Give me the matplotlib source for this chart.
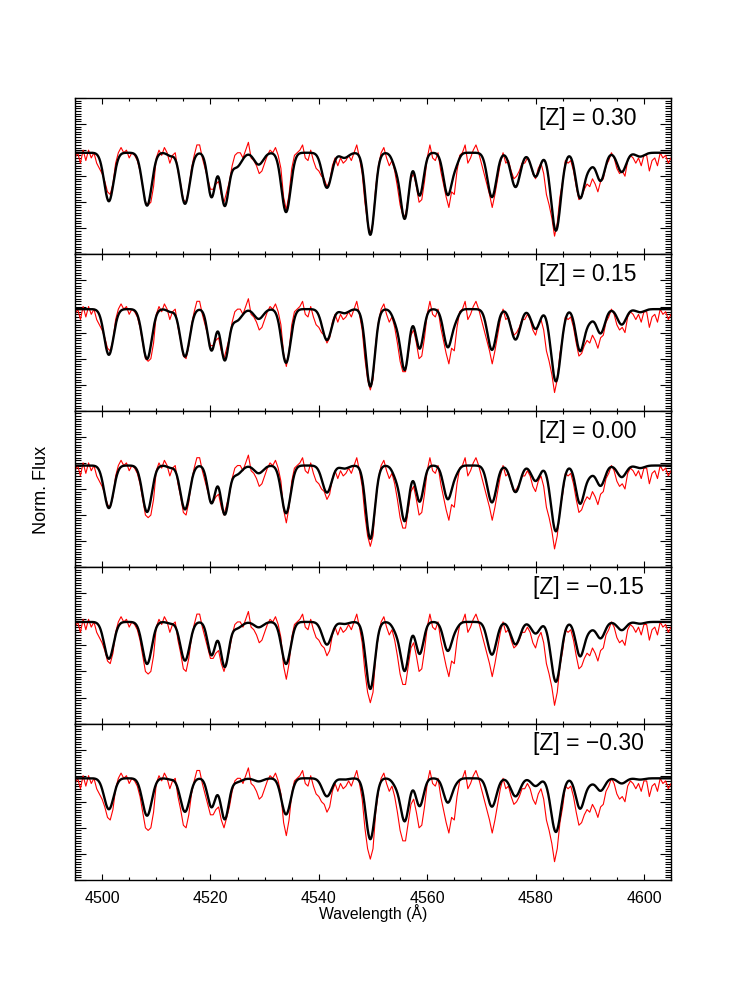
import numpy as np
import matplotlib
matplotlib.use("Agg")
import matplotlib.pyplot as plt
from matplotlib.ticker import MultipleLocator, NullFormatter

plt.rcParams['font.family'] = ['Liberation Sans', 'DejaVu Sans']

# ---------------- data ----------------
panel_labels = ["[Z] = 0.30", "[Z] = 0.15", "[Z] = 0.00", "[Z] = \u22120.15", "[Z] = \u22120.30"]

# observed spectrum (same in every panel), sampled every 0.5 A from 4495.0 A
obs_start = 4495.0
obs_step = 0.5
obs_flux = [
    0.97, 0.99, 0.95, 1.00, 0.96, 1.00, 0.97, 0.99, 0.95, 0.93,   # 4495.0
    0.91, 0.88, 0.84, 0.83, 0.87, 0.95, 0.99, 1.01, 0.99, 1.00,   # 4500.0
    0.97, 0.99, 0.98, 0.96, 0.92, 0.86, 0.80, 0.79, 0.80, 0.86,   # 4505.0
    0.97, 1.00, 0.98, 1.01, 0.99, 0.95, 0.98, 0.99, 0.92, 0.87,   # 4510.0
    0.81, 0.80, 0.85, 0.93, 0.98, 1.02, 1.02, 0.97, 0.93, 0.89,   # 4515.0
    0.85, 0.85, 0.87, 0.88, 0.83, 0.80, 0.84, 0.88, 0.94, 0.98,   # 4520.0
    0.99, 0.99, 0.97, 1.00, 1.03, 0.97, 0.96, 0.94, 0.91, 0.92,   # 4525.0
    0.95, 0.98, 1.00, 0.99, 1.01, 0.98, 0.93, 0.82, 0.77, 0.83,   # 4530.0
    0.93, 0.98, 0.99, 1.00, 1.02, 0.97, 0.96, 1.00, 0.96, 0.93,   # 4535.0
    0.92, 0.90, 0.89, 0.86, 0.88, 0.94, 0.97, 0.94, 0.97, 0.95,   # 4540.0
    0.96, 0.98, 0.96, 0.99, 1.02, 0.97, 0.91, 0.80, 0.72, 0.68,   # 4545.0
    0.72, 0.86, 0.94, 0.99, 1.01, 0.97, 0.94, 0.96, 0.92, 0.86,   # 4550.0
    0.79, 0.75, 0.75, 0.82, 0.89, 0.91, 0.86, 0.80, 0.81, 0.88,   # 4555.0
    0.97, 1.02, 0.97, 0.96, 0.99, 0.92, 0.87, 0.82, 0.78, 0.84,   # 4560.0
    0.83, 0.92, 0.98, 0.99, 1.02, 0.95, 0.97, 1.00, 1.02, 0.99,   # 4565.0
    0.95, 0.91, 0.87, 0.83, 0.78, 0.83, 0.89, 0.95, 0.99, 0.95,   # 4570.0
    0.96, 0.92, 0.89, 0.90, 0.92, 0.95, 0.95, 0.97, 0.95, 0.91,   # 4575.0
    0.89, 0.93, 0.95, 0.91, 0.83, 0.79, 0.74, 0.67, 0.72, 0.82,   # 4580.0
    0.88, 0.96, 0.95, 0.96, 0.92, 0.86, 0.81, 0.82, 0.85, 0.87,   # 4585.0
    0.86, 0.89, 0.87, 0.84, 0.88, 0.89, 0.94, 0.96, 0.99, 0.97,   # 4590.0
    0.93, 0.91, 0.92, 0.90, 0.96, 0.98, 0.97, 0.95, 0.97, 0.94,   # 4595.0
    0.98, 0.98, 0.92, 0.96, 0.97, 0.94, 0.99, 0.97, 0.98, 0.95,   # 4600.0
    0.97,                                                         # 4605.0
]

# model spectra: absorption line list
model_continuum = 0.99
line_center = [4501.25, 4508.30, 4512.60, 4515.30, 4520.20, 4522.63, 4524.80, 4528.90,
               4533.95, 4541.50, 4544.70, 4549.50, 4554.30, 4555.85, 4558.60, 4563.80,
               4565.30, 4571.95, 4576.30, 4580.00, 4583.75, 4588.20, 4589.90, 4592.00,
               4595.90, 4599.30]
line_sigma = [0.86, 0.86, 0.60, 0.86, 0.72, 0.74, 0.95, 0.85,
              0.84, 0.85, 0.80, 0.82, 0.70, 0.76, 0.72, 0.78,
              0.60, 0.82, 0.85, 0.78, 0.90, 0.78, 0.80, 0.78,
              0.80, 0.80]
depth_p030 = [0.188, 0.205, 0.012, 0.198, 0.172, 0.203, 0.055, 0.046,
              0.230, 0.136, 0.020, 0.318, 0.050, 0.253, 0.166, 0.163,
              0.035, 0.172, 0.133, 0.093, 0.302, 0.172, 0.050, 0.108,
              0.075, 0.015]
depth_p015 = [0.177, 0.193, 0.010, 0.184, 0.160, 0.196, 0.045, 0.038,
              0.208, 0.120, 0.016, 0.300, 0.045, 0.233, 0.153, 0.147,
              0.028, 0.158, 0.118, 0.077, 0.280, 0.159, 0.042, 0.093,
              0.060, 0.012]
depth_000 = [0.165, 0.180, 0.008, 0.170, 0.146, 0.188, 0.035, 0.030,
             0.185, 0.105, 0.012, 0.284, 0.040, 0.213, 0.140, 0.130,
             0.022, 0.143, 0.103, 0.060, 0.255, 0.145, 0.035, 0.078,
             0.045, 0.010]
depth_m015 = [0.143, 0.163, 0.006, 0.150, 0.129, 0.173, 0.025, 0.021,
              0.163, 0.088, 0.008, 0.260, 0.032, 0.188, 0.124, 0.112,
              0.016, 0.127, 0.087, 0.045, 0.232, 0.131, 0.028, 0.063,
              0.032, 0.007]
depth_m030 = [0.120, 0.145, 0.004, 0.130, 0.112, 0.158, 0.015, 0.012,
              0.140, 0.070, 0.005, 0.236, 0.025, 0.165, 0.108, 0.094,
              0.010, 0.110, 0.070, 0.030, 0.208, 0.116, 0.020, 0.048,
              0.020, 0.005]
panel_depths = [depth_p030, depth_p015, depth_000, depth_m015, depth_m030]

x_ticks = [4500, 4520, 4540, 4560, 4580, 4600]

# ---------------- build curves ----------------
obs_flux = np.array(obs_flux)
obs_wave = obs_start + obs_step * np.arange(len(obs_flux))

model_wave = np.linspace(4495.0, 4605.0, 2201)
centers = np.array(line_center)
sigmas = np.array(line_sigma)


def model_spectrum(depths):
    f = np.full_like(model_wave, model_continuum)
    for c, s, d in zip(centers, sigmas, depths):
        f *= 1.0 - d * np.exp(-0.5 * ((model_wave - c) / s) ** 2)
    return f


# ---------------- figure ----------------
fig = plt.figure(figsize=(7.47, 9.81), dpi=100)
gs = fig.add_gridspec(5, 1, left=0.1004, right=0.8983, top=0.9001, bottom=0.1030, hspace=0)

for i in range(5):
    ax = fig.add_subplot(gs[i, 0])
    ax.plot(obs_wave, obs_flux, color='#ff0000', lw=0.8, zorder=2)
    ax.plot(model_wave, model_spectrum(panel_depths[i]), color='black', lw=1.7, zorder=3)
    ax.set_xlim(4495, 4605)
    ax.set_ylim(0.6, 1.2)
    ax.set_xticks(x_ticks)
    ax.xaxis.set_minor_locator(MultipleLocator(5))
    ax.set_yticks(np.arange(0.6, 1.201, 0.1))
    ax.yaxis.set_minor_locator(MultipleLocator(0.01))
    ax.yaxis.set_major_formatter(NullFormatter())
    ax.tick_params(which='both', direction='in', top=True, right=True, width=0.8, color='black')
    ax.tick_params(axis='x', which='major', length=4.5, labelsize=11.5, pad=8)
    ax.tick_params(axis='x', which='minor', length=2.5)
    ax.tick_params(axis='y', which='major', length=8)
    ax.tick_params(axis='y', which='minor', length=4)
    for sp in ax.spines.values():
        sp.set_linewidth(1.0)
    if i < 4:
        ax.xaxis.set_major_formatter(NullFormatter())
    ax.text(0.861, 0.828, panel_labels[i], transform=ax.transAxes, ha='center',
            va='baseline', fontsize=16.5, color='black')

fig.text(0.4993, 0.0693, "Wavelength (\u00c5)", ha='center', va='center', fontsize=11.3)
fig.text(0.0562, 0.5005, "Norm. Flux", ha='center', va='center', rotation=90, fontsize=13)

fig.savefig("out.png", dpi=100)
